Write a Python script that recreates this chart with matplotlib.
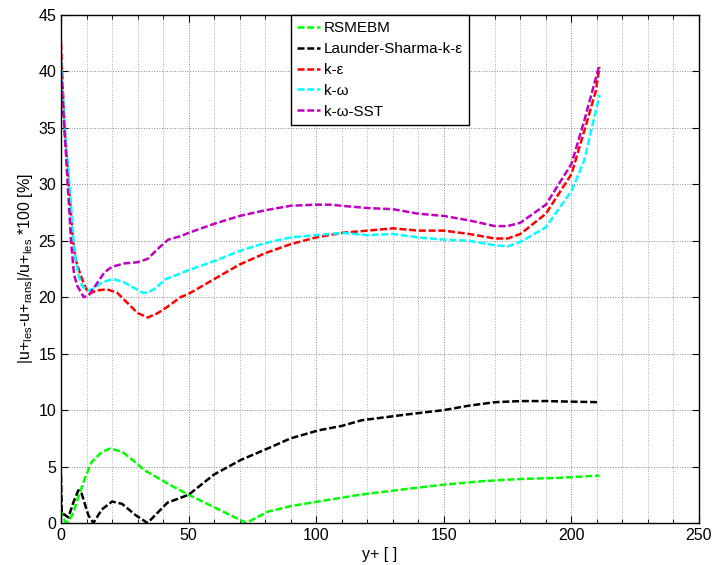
"""Relative deviation of RANS u+ profiles from LES, per turbulence model."""
import matplotlib
matplotlib.use("Agg")
import matplotlib.pyplot as plt
from matplotlib.ticker import MultipleLocator

plt.rcParams["font.family"] = ["Liberation Sans", "DejaVu Sans"]
plt.rcParams["mathtext.default"] = "regular"

# --- data ---
x_rsm = [0, 0.3, 1.6, 2.9, 4.8, 6.8, 9.4, 12, 16, 19.4, 24, 28.5, 32.5, 41.7, 50,
         60, 72.6, 81, 90, 100.8, 117, 135, 150, 165, 180, 195, 211]
y_rsm = [1.2, 1.0, 0.1, 0.1, 0.9, 2.3, 4.0, 5.4, 6.3, 6.6, 6.3, 5.5, 4.7, 3.5, 2.5,
         1.4, 0.0, 1.0, 1.5, 1.9, 2.5, 3.0, 3.4, 3.7, 3.9, 4.0, 4.2]

x_ls = [0, 0.3, 1.6, 2.9, 4.8, 6.8, 8.1, 10.7, 12.7, 16, 20, 23.9, 29.2, 33.9, 41.7,
        50, 60, 70.6, 81, 90, 100.8, 110, 117.8, 135, 150, 160, 170, 180, 190, 200, 211]
y_ls = [4.2, 0.9, 0.7, 0.5, 1.8, 2.9, 2.6, 0.7, 0.0, 1.2, 1.9, 1.7, 0.7, 0.0, 1.8,
        2.5, 4.3, 5.6, 6.6, 7.5, 8.2, 8.6, 9.1, 9.6, 10.0, 10.4, 10.7, 10.8, 10.8, 10.75, 10.7]

x_ke = [0, 0.6, 1.4, 2.2, 3.0, 3.9, 4.7, 5.8, 7.6, 9.5, 11, 14, 18, 22, 26, 30, 34,
        38, 42, 46.8, 50, 60, 70, 80, 90, 100, 110, 120, 130, 140, 150, 160, 170,
        175, 180, 190, 200, 205, 209.5, 211]
y_ke = [42.5, 39, 35, 32.5, 30, 27.5, 25, 23.3, 22, 20.9, 20.3, 20.6, 20.7, 20.4,
        19.5, 18.6, 18.2, 18.6, 19.2, 20.0, 20.3, 21.6, 22.9, 23.9, 24.7, 25.3, 25.7,
        25.9, 26.1, 25.9, 25.9, 25.6, 25.2, 25.2, 25.6, 27.4, 30.9, 34.7, 38.2, 40.4]

x_kw = [0, 0.6, 1.5, 2.4, 3.3, 4.1, 4.9, 5.8, 6.8, 8.2, 10.5, 13, 16, 20, 24, 28,
        32, 34, 37, 41, 46.8, 50, 60, 70, 80, 90, 100, 110, 120, 130, 140, 150, 160,
        170, 175, 180, 190, 200, 205, 211]
y_kw = [41, 38.5, 35, 32.5, 30, 27.5, 25, 23.3, 22, 21, 20.6, 20.8, 21.3, 21.6, 21.4,
        20.9, 20.4, 20.4, 20.8, 21.6, 22.1, 22.4, 23.2, 24.1, 24.8, 25.3, 25.5, 25.7,
        25.5, 25.6, 25.3, 25.1, 25.0, 24.6, 24.5, 24.9, 26.2, 29.4, 32.1, 37.9]

x_sst = [0, 0.5, 1.3, 2.0, 2.6, 3.3, 3.9, 5.1, 6.4, 8.9, 11, 14, 17, 20, 25, 30, 34,
         38, 42, 46.8, 50, 60, 70, 80, 90, 100, 105.6, 110, 120, 130, 140, 150, 160,
         170, 175, 180, 190, 200, 205, 211]
y_sst = [40, 38, 35, 32.5, 30, 27.5, 25, 22, 21, 20.0, 20.2, 21.2, 22.2, 22.7, 23.0,
         23.1, 23.4, 24.3, 25.1, 25.4, 25.7, 26.5, 27.2, 27.7, 28.1, 28.2, 28.2, 28.1,
         27.9, 27.8, 27.4, 27.2, 26.8, 26.3, 26.3, 26.6, 28.2, 31.8, 35.6, 40.6]

SERIES = [
    ("RSMEBM", x_rsm, y_rsm, "#00ff00"),
    ("Launder-Sharma-k-ε", x_ls, y_ls, "black"),
    ("k-ε", x_ke, y_ke, "#ff0000"),
    ("k-ω", x_kw, y_kw, "#00ffff"),
    ("k-ω-SST", x_sst, y_sst, "#bf00bf"),
]

FS = 11.5

fig = plt.figure(figsize=(7.12, 5.65), dpi=100, facecolor="white")
ax = fig.add_axes([61 / 712, 42 / 565, 638 / 712, 508 / 565])

for label, xs, ys, c in SERIES:
    ax.plot(xs, ys, color=c, linewidth=1.8, dashes=(2.8, 1.1), label=label)

ax.set_xlim(0, 250)
ax.set_ylim(0, 45)
ax.xaxis.set_major_locator(MultipleLocator(50))
ax.xaxis.set_minor_locator(MultipleLocator(10))
ax.yaxis.set_major_locator(MultipleLocator(5))
ax.tick_params(which="both", direction="in", top=True, right=True, labelsize=FS)
ax.tick_params(which="major", length=5)
ax.tick_params(which="minor", length=3)
ax.grid(True, which="major", linestyle=":", color="#888888", linewidth=0.7)
ax.grid(True, which="minor", axis="x", linestyle=":", color="#aaaaaa", linewidth=0.7)
ax.set_axisbelow(True)
for s in ax.spines.values():
    s.set_linewidth(1.0)

ax.set_xlabel("y+ [ ]", fontsize=FS, labelpad=3)
ax.set_ylabel(r"|u+$_{les}$-u+$_{rans}$|/u+$_{les}$ *100 [%]", fontsize=FS, labelpad=2)

leg = ax.legend(loc="upper left", bbox_to_anchor=(0.3605, 1.0), fontsize=11.0,
                frameon=True, fancybox=False, framealpha=1, edgecolor="black",
                handlelength=1.5, handletextpad=0.25, borderaxespad=0,
                borderpad=0.4, labelspacing=0.45)
leg.get_frame().set_linewidth(1.0)

fig.savefig("out.png", dpi=100)
